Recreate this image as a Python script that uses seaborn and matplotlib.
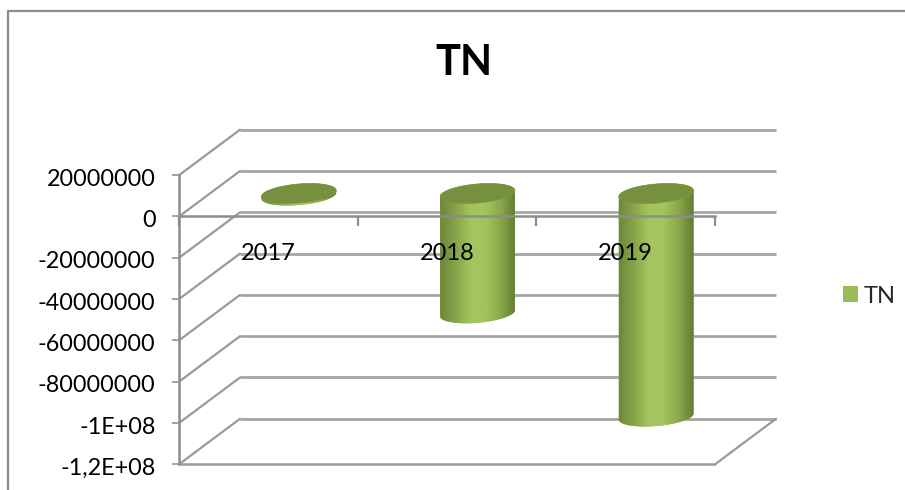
import numpy as np
import pandas as pd
import matplotlib
matplotlib.use("Agg")
import matplotlib.pyplot as plt
import seaborn as sns
from matplotlib.colors import LinearSegmentedColormap
from matplotlib.lines import Line2D
from matplotlib.patches import Polygon
from matplotlib.transforms import Affine2D

anos = ['2017', '2018', '2019']
tn = [-1000000, -58000000, -108000000]
y_ticks = [20000000, 0, -20000000, -40000000, -60000000, -80000000, -100000000, -120000000]
y_labels = ['20000000', '0', '-20000000', '-40000000', '-60000000', '-80000000', '-1E+08', '-1,2E+08']

sns.set_theme(style='white')
plt.rcParams['font.family'] = ['Lato', 'DejaVu Sans']

W, H = 905, 490
fig = plt.figure(figsize=(W / 100, H / 100), dpi=100)
ax = fig.add_axes([0, 0, 1, 1])
ax.patch.set_alpha(0)

df = pd.DataFrame({'ano': anos, 'TN': tn, 'serie': ['TN'] * len(anos)})
sns.barplot(data=df, x='ano', y='TN', hue='serie', palette=['#9bbb59'], width=0.42,
            dodge=False, ax=ax, zorder=1.9, linewidth=0, saturation=1)

# escala: eixos ocupam a figura toda, plano frontal fica em 179-715 px
px_cat = (715 - 179) / 3
px_val = 41.3 / 20000000
y0_px = 216.5
ax.set_xlim(-0.5 - 179 / px_cat, -0.5 + (W - 179) / px_cat)
ax.set_ylim((y0_px - H) / px_val, y0_px / px_val)
ax.set_xlabel('')
ax.set_ylabel('')


def desloc(dx_px, dy_px):
    # desloca em pixels (profundidade do grafico 3D)
    return Affine2D().translate(dx_px / px_cat, dy_px / px_val) + ax.transData


CINZA = '#9a9a9a'
fundo = desloc(61, 45.5)
meio = desloc(30.5, 23)

# parede do fundo e parede lateral
ax.hlines(y_ticks, -0.5, 2.5, colors='#a6a6a6', lw=2, transform=fundo, zorder=1)
for v in y_ticks:
    ax.plot([-0.5, -0.5 + 61 / px_cat], [v, v + 45.5 / px_val], color=CINZA, lw=1.6, zorder=1)
# piso
ax.plot([2.5, 2.5 + 61 / px_cat], [y_ticks[-1], y_ticks[-1] + 45.5 / px_val], color=CINZA, lw=1.6, zorder=1)
ax.plot([-0.5, 2.5], [y_ticks[-1], y_ticks[-1]], color=CINZA, lw=1.8, zorder=1)

# eixos
sns.despine(ax=ax, top=True, right=True)
ax.spines['left'].set_position(('data', -0.5))
ax.spines['left'].set_bounds(y_ticks[-1], y_ticks[0])
ax.spines['bottom'].set_position(('data', 0))
ax.spines['bottom'].set_bounds(-0.5, 2.5)
for s in ['left', 'bottom']:
    ax.spines[s].set_color('#8c8c8c')
    ax.spines[s].set_linewidth(1.8)
ax.set_yticks(y_ticks, y_labels)
ax.tick_params(axis='y', left=True, length=5, width=1.3, color=CINZA, pad=12, labelsize=16.8, labelcolor='black')
for lab in ax.get_yticklabels():
    lab.set_transform(lab.get_transform() + Affine2D().translate(0, -2))
ax.set_xticks(range(3), anos)
ax.set_xticks([-0.5, 0.5, 1.5, 2.5], minor=True)
ax.tick_params(axis='x', which='major', bottom=False, pad=13, labelsize=17, labelcolor='black')
ax.tick_params(axis='x', which='minor', bottom=True, length=7, width=1.6, color='#8c8c8c')

# cilindros
cmap = LinearSegmentedColormap.from_list('cil', ['#6d8639', '#86a348', '#a3c45f', '#a3c45f', '#8aa84b', '#637a33'])
gradiente = np.linspace(0, 1, 256).reshape(1, -1)
A_ELIPSE, B_ELIPSE, ANG = 37.5, 9.5, np.deg2rad(5)


def elipse(cx, cy, t):
    # cx em categorias, cy em valores; contorno inclinado calculado em pixels
    ex = A_ELIPSE * np.cos(t) * np.cos(ANG) - B_ELIPSE * np.sin(t) * np.sin(ANG)
    ey = A_ELIPSE * np.cos(t) * np.sin(ANG) + B_ELIPSE * np.sin(t) * np.cos(ANG)
    return np.column_stack([cx + ex / px_cat, cy + ey / px_val])


for bar in ax.containers[0]:
    v = bar.get_y() if bar.get_height() > 0 else bar.get_y() + bar.get_height()
    cx = bar.get_x() + bar.get_width() / 2 + 30.5 / px_cat
    topo = 23 / px_val
    base = v + topo
    corpo = np.vstack([elipse(cx, base, np.linspace(np.pi, 2 * np.pi, 60)),
                       elipse(cx, topo, np.linspace(0, np.pi, 60))])
    poly = Polygon(corpo, closed=True, transform=ax.transData, fc='#9bbb59', ec='none', zorder=1.9)
    ax.add_patch(poly)
    # a barra fica embaixo do gradiente, cortada pelo contorno do cilindro
    bar.set_transform(meio)
    bar.set_clip_path(poly)
    x0 = cx - 38 / px_cat
    x1 = cx + 38 / px_cat
    im = ax.imshow(gradiente, extent=[x0, x1, base - 15 / px_val, topo + 15 / px_val], cmap=cmap,
                   aspect='auto', zorder=2, interpolation='bilinear')
    im.set_clip_path(poly)
    tampa = elipse(cx, topo, np.linspace(0, 2 * np.pi, 120))
    ax.add_patch(Polygon(tampa, closed=True, fc='#76903f', ec='#7d9842', lw=0.5, zorder=2.2))

# imshow mexe nos limites
ax.set_xlim(-0.5 - 179 / px_cat, -0.5 + (W - 179) / px_cat)
ax.set_ylim((y0_px - H) / px_val, y0_px / px_val)
ax.set_axisbelow(False)

leg = ax.legend(loc='center left', bbox_to_anchor=(843 / W, 1 - 296 / H), frameon=False, fontsize=17,
                handlelength=0.64, handleheight=0.64, handletextpad=0.25, borderpad=0, borderaxespad=0)

ax.text(464 / W, 1 - 63 / H, 'TN', transform=ax.transAxes, fontsize=30, fontweight='bold', color='black',
        ha='center', va='center')

# moldura da area do grafico
fig.add_artist(Line2D([7.5 / W, 7.5 / W, 1], [0, 1 - 11 / H, 1 - 11 / H], color='#8c8c8c', lw=1.6))

fig.savefig('out.png', dpi=100)
